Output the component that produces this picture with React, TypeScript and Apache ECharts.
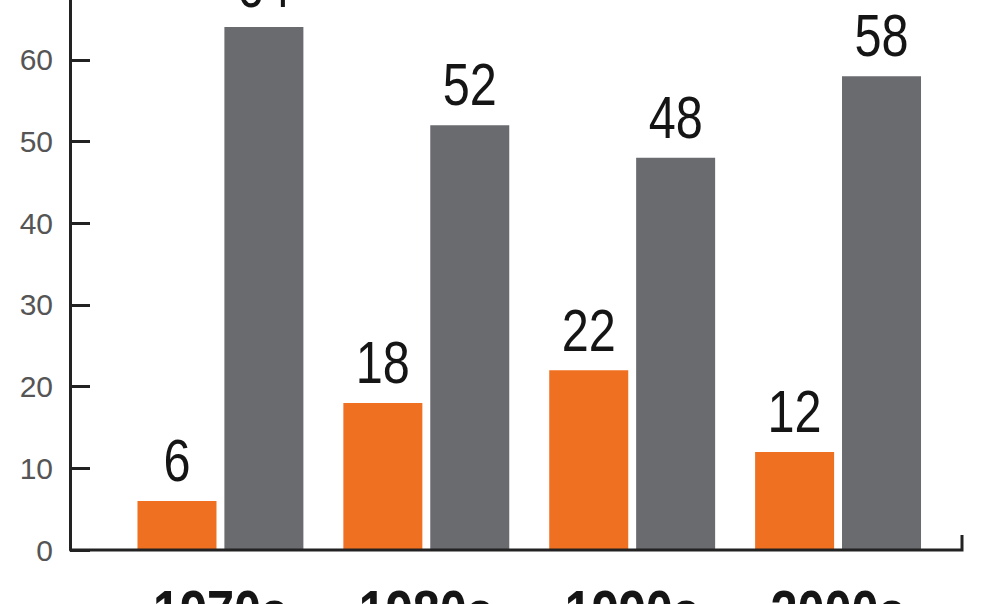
import React, { useEffect, useRef } from "react";
import * as echarts from "echarts";

const categories = ["1970s", "1980s", "1990s", "2000s"];
const orangeValues = [6, 18, 22, 12];
const grayValues = [64, 52, 48, 58];
const yTicks = { min: 0, max: 70, interval: 10 };

const FONT = "'Liberation Sans', Arial, sans-serif";
const BAR_WIDTH = 79;
const BAR_GAP_PX = 8;
const NARROW = 0.81;

export default function App() {
  const ref = useRef<HTMLDivElement>(null);
  useEffect(() => {
    if (!ref.current) return;
    const chart = echarts.init(ref.current, null, { renderer: "svg" });
    const labelData = categories.map((c, i) => [i, orangeValues[i], grayValues[i]]);
    const half = (BAR_WIDTH + BAR_GAP_PX) / 2;
    const valueText = (x: number, y: number, v: number) => ({
      type: "text",
      x,
      y,
      scaleX: NARROW,
      style: {
        text: String(v),
        fontSize: 60,
        fontFamily: FONT,
        fill: "#151515",
        align: "center",
        verticalAlign: "bottom",
      },
    });
    chart.setOption({
      animation: false,
      backgroundColor: "#ffffff",
      grid: { left: 117.5, right: 43, top: 38.1, bottom: 110, containLabel: false },
      xAxis: {
        type: "category",
        data: categories,
        axisLine: { show: false },
        axisTick: { show: false },
        axisLabel: { show: false },
      },
      yAxis: {
        type: "value",
        min: yTicks.min,
        max: yTicks.max,
        interval: yTicks.interval,
        offset: 47.5,
        splitLine: { show: false },
        axisLine: { show: true, lineStyle: { color: "#222", width: 3 } },
        axisTick: { show: true, inside: true, length: 20, lineStyle: { color: "#222", width: 3 } },
        axisLabel: { fontSize: 30, fontFamily: FONT, color: "#555", margin: 17 },
      },
      graphic: [
        {
          type: "polyline",
          shape: { points: [[70, 610], [962, 610], [962, 595]] },
          style: { stroke: "#222", lineWidth: 3, fill: null },
          z: 10,
        },
      ],
      series: [
        {
          type: "bar",
          data: orangeValues,
          barWidth: BAR_WIDTH,
          barGap: "10%",
          itemStyle: { color: "#F07021" },
        },
        {
          type: "bar",
          data: grayValues,
          barWidth: BAR_WIDTH,
          barGap: "10%",
          itemStyle: { color: "#6A6B6F" },
        },
        {
          type: "custom",
          data: labelData,
          clip: false,
          z: 20,
          encode: { x: 0, y: [1, 2] },
          renderItem: (params: any, api: any) => {
            const i = api.value(0);
            const o = api.value(1);
            const g = api.value(2);
            const base = api.coord([i, 0]);
            const po = api.coord([i, o]);
            const pg = api.coord([i, g]);
            return {
              type: "group",
              children: [
                valueText(base[0] - half, po[1] - 10, o),
                valueText(base[0] + half, pg[1] - 10, g),
                {
                  type: "text",
                  x: base[0],
                  y: base[1] + 32,
                  scaleX: NARROW,
                  style: {
                    text: categories[i],
                    fontSize: 60,
                    fontWeight: "bold",
                    fontFamily: FONT,
                    fill: "#151515",
                    align: "center",
                    verticalAlign: "top",
                  },
                },
              ],
            };
          },
        },
      ],
    });
    return () => chart.dispose();
  }, []);
  return (
    <div style={{ position: "fixed", left: 0, top: 0, width: 984, height: 604, overflow: "hidden", background: "#fff" }}>
      <div ref={ref} style={{ position: "absolute", left: 0, top: -60, width: 984, height: 720 }} />
    </div>
  );
}
